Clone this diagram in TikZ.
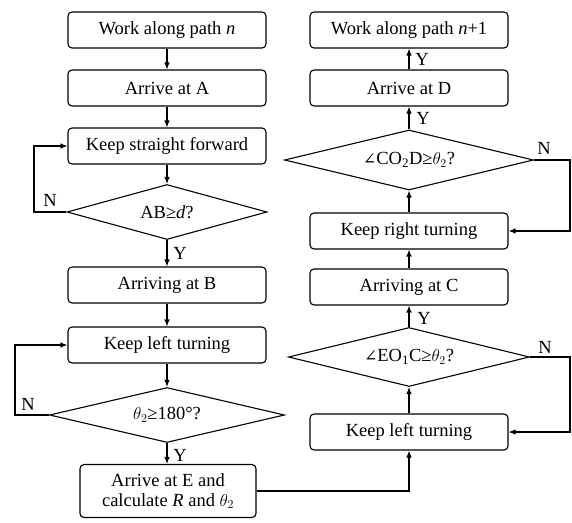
\documentclass[tikz,border=0pt]{standalone}
\usepackage{fontspec}
\setmainfont{Liberation Serif}
\newfontfamily\symfam{DejaVu Serif}
\usetikzlibrary{shapes.geometric,arrows.meta}
\newcommand{\myangle}{{\symfam\fontsize{16}{18}\selectfont ∠}}
\begin{document}
\begin{tikzpicture}[x=1pt,y=-1pt,
  every node/.style={font=\fontsize{18.5}{21}\selectfont},
  procbox/.style={draw,line width=1.1pt,rounded corners=4pt,minimum width=198pt,minimum height=36pt,inner sep=0pt},
  decide/.style={draw,line width=1.1pt,diamond,inner sep=0pt},
  conn/.style={line width=1.1pt,-{Latex[length=7pt,width=5.5pt]}},
  lab/.style={inner sep=0pt}]
\useasboundingbox (0,0) rectangle (572,522);
% left column
\node[procbox] (w1) at (167,30) {Work along path \textit{n}};
\node[procbox] (a) at (167,88) {Arrive at A};
\node[procbox] (ks) at (167,146) {Keep straight forward};
\node[decide,minimum width=200pt,minimum height=55pt,shape aspect=3.64] (d1) at (167,212) {AB≥\textit{d}?};
\node[procbox] (ab) at (167,285) {Arriving at B};
\node[procbox] (klt) at (167,345) {Keep left turning};
\node[decide,minimum width=235pt,minimum height=55pt,shape aspect=4.27] (d2) at (167,415) {$\theta_2$≥180°?};
\node[procbox,minimum width=176pt,minimum height=53pt,align=center,font=\fontsize{18.5}{20}\selectfont] (e) at (168,491) {Arrive at E and\\calculate \textit{R} and $\theta_2$};
% right column
\node[procbox] (w2) at (409,30) {Work along path \textit{n}+1};
\node[procbox] (ad) at (409,88) {Arrive at D};
\node[decide,minimum width=249pt,minimum height=60pt,shape aspect=4.15] (d3) at (409,160) {\myangle CO\textsubscript{2}D≥$\theta_2$?};
\node[procbox] (krt) at (409,231) {Keep right turning};
\node[procbox] (ac) at (409,287) {Arriving at C};
\node[decide,minimum width=241pt,minimum height=59pt,shape aspect=4.08] (d4) at (409,357) {\myangle EO\textsubscript{1}C≥$\theta_2$?};
\node[procbox] (klt2) at (409,432) {Keep left turning};
% connectors left
\draw[conn] (w1) -- (a);
\draw[conn] (a) -- (ks);
\draw[conn] (ks) -- (d1.north);
\draw[conn] (d1.south) -- (ab);
\draw[conn] (ab) -- (klt);
\draw[conn] (klt) -- (d2.north);
\draw[conn] (d2.south) -- (e.north -| d2.south);
\coordinate (l1) at (34,212);
\coordinate (l2) at (15,415);
\draw[conn] (d1.west) -- (l1) |- (ks.west);
\draw[conn] (d2.west) -- (l2) |- (klt.west);
% connectors right
\draw[conn] (e.east) -| (klt2.south);
\draw[conn] (klt2.north) -- (d4.south);
\draw[conn] (d4.north) -- (ac.south);
\draw[conn] (ac.north) -- (krt.south);
\draw[conn] (krt.north) -- (d3.south);
\draw[conn] (d3.north) -- (ad.south);
\draw[conn] (ad.north) -- (w2.south);
\coordinate (r1) at (570,160);
\coordinate (r2) at (570,357);
\draw[conn] (d3.east) -- (r1) |- (krt.east);
\draw[conn] (d4.east) -- (r2) |- (klt2.east);
% labels
\node[lab] (n1) at (50,200) {N};
\node[lab] (n2) at (28,404) {N};
\node[lab] (n3) at (544,148) {N};
\node[lab] (n4) at (545,347) {N};
\node[lab] (y1) at (180,253) {Y};
\node[lab] (y2) at (180,455) {Y};
\node[lab] (y3) at (422,59) {Y};
\node[lab] (y4) at (423,118) {Y};
\node[lab] (y5) at (424,318) {Y};
\end{tikzpicture}
\end{document}
